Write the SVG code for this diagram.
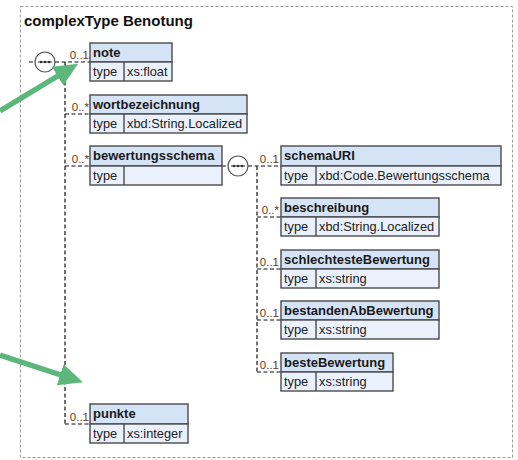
<svg xmlns="http://www.w3.org/2000/svg" width="518" height="460" viewBox="0 0 518 460">
<style>
.frame{fill:none;stroke:#9a9a9a;stroke-width:1;stroke-dasharray:3,2}
.title{font-family:"Liberation Sans",Arial,sans-serif;font-size:15px;font-weight:bold;fill:#111}
.hd{fill:#d5e3f7;stroke:#4a4a4a;stroke-width:1.4}
.ty{fill:#eaf1fc;stroke:#4a4a4a;stroke-width:1.4}
.nm{font-family:"Liberation Sans",Arial,sans-serif;font-size:13px;font-weight:bold;fill:#1a1a1a}
.tx{font-family:"Liberation Sans",Arial,sans-serif;font-size:12.8px;fill:#222}
.card{font-family:"Liberation Sans",Arial,sans-serif;font-size:11.5px;fill:#6e3526;text-anchor:end}
.dl{fill:none;stroke:#111;stroke-width:1.2;stroke-dasharray:4,2.5}
.seq{fill:#fff;stroke:#555;stroke-width:1.2}
.arr{fill:none;stroke:#5cb87a;stroke-width:5.5}
</style>
<defs>
<marker id="ah" markerUnits="userSpaceOnUse" markerWidth="26" markerHeight="26" viewBox="0 0 26 26" refX="4" refY="13" orient="auto">
<path d="M0,2 L24,13 L0,24 Z" fill="#5cb87a"/>
</marker>
<g id="seqicon">
<circle class="seq" cx="0" cy="0" r="10"/>
<line x1="-7" y1="0" x2="7" y2="0" stroke="#333" stroke-width="1"/>
<circle cx="-4" cy="0" r="1.3" fill="#333"/>
<circle cx="0" cy="0" r="1.3" fill="#333"/>
<circle cx="4" cy="0" r="1.3" fill="#333"/>
</g>
</defs>
<rect class="frame" x="20.5" y="6.5" width="492" height="451"/>
<text class="title" x="24" y="26">complexType Benotung</text>

<g id="connectors">
<line class="dl" x1="29" y1="62" x2="90" y2="62"/>
<line class="dl" x1="65" y1="62" x2="65" y2="424"/>
<line class="dl" x1="65" y1="114" x2="90" y2="114"/>
<line class="dl" x1="65" y1="166" x2="90" y2="166"/>
<line class="dl" x1="65" y1="424" x2="90" y2="424"/>
<line class="dl" x1="222" y1="166" x2="280" y2="166"/>
<line class="dl" x1="257" y1="166" x2="257" y2="372"/>
<line class="dl" x1="257" y1="217" x2="280" y2="217"/>
<line class="dl" x1="257" y1="269" x2="280" y2="269"/>
<line class="dl" x1="257" y1="320" x2="280" y2="320"/>
<line class="dl" x1="257" y1="372" x2="280" y2="372"/>
<use href="#seqicon" x="45" y="62"/>
<use href="#seqicon" x="238" y="166"/>
<text class="card" x="89" y="59">0..1</text>
<text class="card" x="89" y="111">0..*</text>
<text class="card" x="89" y="163">0..*</text>
<text class="card" x="89" y="421">0..1</text>
<text class="card" x="279" y="163">0..1</text>
<text class="card" x="279" y="214">0..*</text>
<text class="card" x="279" y="266">0..1</text>
<text class="card" x="279" y="317">0..1</text>
<text class="card" x="279" y="369">0..1</text>
</g>

<g id="note">
<rect class="hd" x="90" y="43" width="82" height="19"/>
<rect class="ty" x="90" y="62" width="82" height="19"/>
<line x1="124" y1="62" x2="124" y2="81" stroke="#4a4a4a" stroke-width="1.4"/>
<text class="nm" x="93" y="57">note</text>
<text class="tx" x="93" y="76">type</text>
<text class="tx" x="127" y="76">xs:float</text>
</g>

<g id="wortbezeichnung">
<rect class="hd" x="90" y="95" width="157" height="19"/>
<rect class="ty" x="90" y="114" width="157" height="19"/>
<line x1="124" y1="114" x2="124" y2="133" stroke="#4a4a4a" stroke-width="1.4"/>
<text class="nm" x="93" y="109">wortbezeichnung</text>
<text class="tx" x="93" y="128">type</text>
<text class="tx" x="127" y="128">xbd:String.Localized</text>
</g>

<g id="bewertungsschema">
<rect class="hd" x="90" y="146" width="132" height="20"/>
<rect class="ty" x="90" y="166" width="132" height="19"/>
<line x1="124" y1="166" x2="124" y2="185" stroke="#4a4a4a" stroke-width="1.4"/>
<text class="nm" x="93" y="160">bewertungsschema</text>
<text class="tx" x="93" y="180">type</text>
</g>

<g id="punkte">
<rect class="hd" x="90" y="404" width="98" height="20"/>
<rect class="ty" x="90" y="424" width="98" height="19"/>
<line x1="124" y1="424" x2="124" y2="443" stroke="#4a4a4a" stroke-width="1.4"/>
<text class="nm" x="93" y="418">punkte</text>
<text class="tx" x="93" y="438">type</text>
<text class="tx" x="127" y="438">xs:integer</text>
</g>

<g id="schemaURI">
<rect class="hd" x="281" y="146" width="220" height="20"/>
<rect class="ty" x="281" y="166" width="220" height="19"/>
<line x1="316" y1="166" x2="316" y2="185" stroke="#4a4a4a" stroke-width="1.4"/>
<text class="nm" x="284" y="160">schemaURI</text>
<text class="tx" x="284" y="180">type</text>
<text class="tx" x="319" y="180">xbd:Code.Bewertungsschema</text>
</g>

<g id="beschreibung">
<rect class="hd" x="281" y="198" width="158" height="19"/>
<rect class="ty" x="281" y="217" width="158" height="19"/>
<line x1="316" y1="217" x2="316" y2="236" stroke="#4a4a4a" stroke-width="1.4"/>
<text class="nm" x="284" y="212">beschreibung</text>
<text class="tx" x="284" y="231">type</text>
<text class="tx" x="319" y="231">xbd:String.Localized</text>
</g>

<g id="schlechtesteBewertung">
<rect class="hd" x="281" y="250" width="158" height="19"/>
<rect class="ty" x="281" y="269" width="158" height="19"/>
<line x1="316" y1="269" x2="316" y2="288" stroke="#4a4a4a" stroke-width="1.4"/>
<text class="nm" x="284" y="264">schlechtesteBewertung</text>
<text class="tx" x="284" y="283">type</text>
<text class="tx" x="319" y="283">xs:string</text>
</g>

<g id="bestandenAbBewertung">
<rect class="hd" x="281" y="301" width="158" height="19"/>
<rect class="ty" x="281" y="320" width="158" height="19"/>
<line x1="316" y1="320" x2="316" y2="339" stroke="#4a4a4a" stroke-width="1.4"/>
<text class="nm" x="284" y="315">bestandenAbBewertung</text>
<text class="tx" x="284" y="334">type</text>
<text class="tx" x="319" y="334">xs:string</text>
</g>

<g id="besteBewertung">
<rect class="hd" x="281" y="353" width="112" height="19"/>
<rect class="ty" x="281" y="372" width="112" height="19"/>
<line x1="316" y1="372" x2="316" y2="391" stroke="#4a4a4a" stroke-width="1.4"/>
<text class="nm" x="284" y="367">besteBewertung</text>
<text class="tx" x="284" y="386">type</text>
<text class="tx" x="319" y="386">xs:string</text>
</g>

<g id="arrows">
<line class="arr" x1="0" y1="111" x2="61" y2="74" marker-end="url(#ah)"/>
<line class="arr" x1="0" y1="355" x2="64" y2="376" marker-end="url(#ah)"/>
</g>
</svg>
